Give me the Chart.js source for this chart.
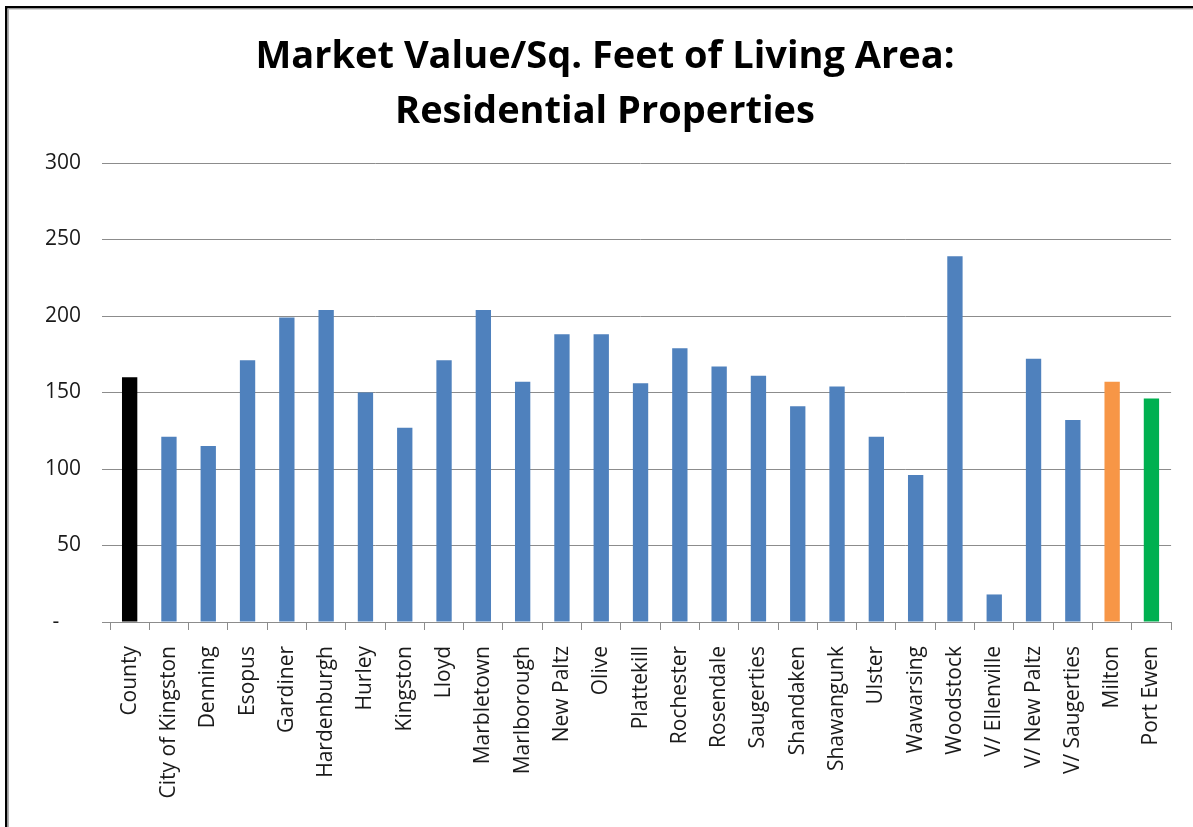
<!DOCTYPE html>
<html>
<head>
<meta charset="utf-8">
<script src="https://cdn.jsdelivr.net/npm/chart.js@4"></script>
<style>
  body { margin: 0; background: #fff; }
  canvas { display: block; }
</style>
</head>
<body>
<canvas id="chart" width="1193" height="827"></canvas>
<script>
'use strict';

const towns = ['County', 'City of Kingston', 'Denning', 'Esopus', 'Gardiner', 'Hardenburgh', 'Hurley',
	'Kingston', 'Lloyd', 'Marbletown', 'Marlborough', 'New Paltz', 'Olive', 'Plattekill', 'Rochester',
	'Rosendale', 'Saugerties', 'Shandaken', 'Shawangunk', 'Ulster', 'Wawarsing', 'Woodstock',
	'V/ Ellenville', 'V/ New Paltz', 'V/ Saugerties', 'Milton', 'Port Ewen'];
const valuePerSqFt = [160, 121, 115, 171, 199, 204, 150, 127, 171, 204, 157, 188, 188, 156, 179,
	167, 161, 141, 154, 121, 96, 239, 18, 172, 132, 157, 146];
const yTicks = [0, 50, 100, 150, 200, 250, 300];
const titleLines = ['Market Value/Sq. Feet of Living Area:', 'Residential Properties'];

const barColors = towns.map((t) => {
	if (t === 'County') return '#000000';
	if (t === 'Milton') return '#F79646';
	if (t === 'Port Ewen') return '#00B050';
	return '#4F81BD';
});

const FONT = "'Open Sans', 'Noto Sans', sans-serif";
const gridColor = '#8c8c8c';

// page frame on the left and top edges, plus the two-line title
const frame = {
	id: 'frame',
	afterDraw(c) {
		const ctx = c.ctx;
		ctx.save();
		ctx.fillStyle = '#000';
		ctx.fillRect(5, 6, 2.5, c.height);
		ctx.fillRect(5, 6, c.width, 2.5);
		ctx.fillStyle = '#b0b0b0';
		ctx.fillRect(7.5, 8.5, 1.5, c.height);
		ctx.fillRect(7.5, 8.5, c.width, 1);

		ctx.fillStyle = '#000';
		ctx.font = 'bold 38px ' + FONT;
		ctx.textAlign = 'center';
		ctx.textBaseline = 'alphabetic';
		ctx.fillText(titleLines[0], 605, 68);
		ctx.fillText(titleLines[1], 605, 123);
		ctx.restore();
	},
};

new Chart(document.getElementById('chart'), {
	type: 'bar',
	data: {
		labels: towns,
		datasets: [{
			data: valuePerSqFt,
			backgroundColor: barColors,
			borderWidth: 0,
			barPercentage: 0.39,
			categoryPercentage: 1,
		}],
	},
	options: {
		responsive: false,
		animation: false,
		layout: { padding: { left: 0, right: 19.5, top: 163, bottom: 0 } },
		plugins: {
			legend: { display: false },
			tooltip: { enabled: false },
			title: { display: false },
		},
		scales: {
			x: {
				grid: {
					display: true,
					drawOnChartArea: false,
					offset: true,
					tickLength: 8,
					color: gridColor,
				},
				border: { display: true, color: gridColor },
				ticks: {
					color: '#1a1a1a',
					font: { family: FONT, size: 21 },
					minRotation: 90,
					maxRotation: 90,
					autoSkip: false,
					padding: 16,
				},
				afterFit(scale) { scale.height = 205; },
			},
			y: {
				min: 0,
				max: 300,
				afterBuildTicks(scale) { scale.ticks = yTicks.map((v) => ({ value: v })); },
				grid: { color: gridColor, tickLength: 8, drawTicks: true },
				border: { display: false },
				ticks: {
					color: '#1a1a1a',
					font: { family: FONT, size: 21 },
					padding: 21,
					callback: (v) => (v === 0 ? '-    ' : v),
				},
				afterFit(scale) { scale.width = 110; },
			},
		},
	},
	plugins: [frame],
});
</script>
</body>
</html>
